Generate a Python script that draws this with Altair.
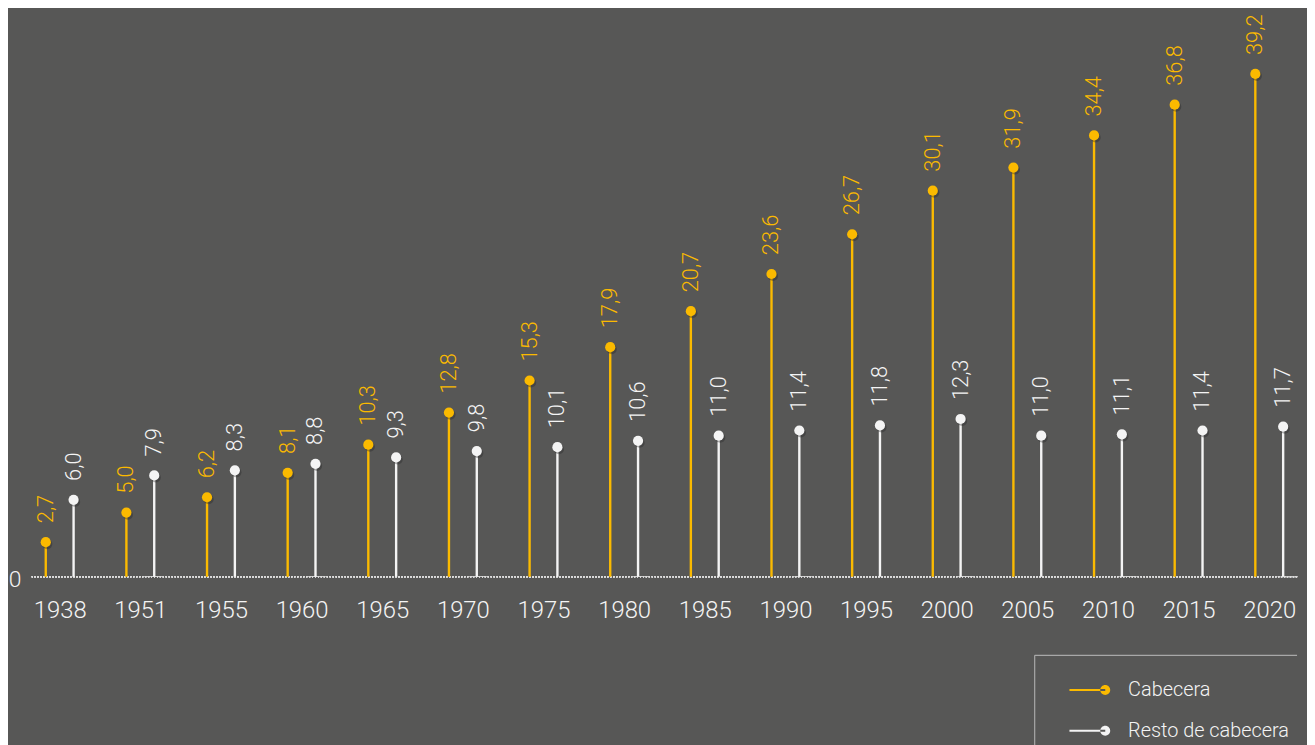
import altair as alt
import pandas as pd

years = ["1938", "1951", "1955", "1960", "1965", "1970", "1975", "1980",
         "1985", "1990", "1995", "2000", "2005", "2010", "2015", "2020"]
cabecera = [2.7, 5.0, 6.2, 8.1, 10.3, 12.8, 15.3, 17.9, 20.7, 23.6, 26.7,
            30.1, 31.9, 34.4, 36.8, 39.2]
resto = [6.0, 7.9, 8.3, 8.8, 9.3, 9.8, 10.1, 10.6, 11.0, 11.4, 11.8, 12.3,
         11.0, 11.1, 11.4, 11.7]
series_names = ["Cabecera", "Resto de cabecera"]

BG = "#575756"
YELLOW = "#FBBA00"
WHITE = "#F4F4F4"
FONT = "Roboto"

df = pd.DataFrame(
    [{"year": y, "value": v, "series": series_names[0]} for y, v in zip(years, cabecera)]
    + [{"year": y, "value": v, "series": series_names[1]} for y, v in zip(years, resto)]
)

W, H = 1273, 570

x = alt.X("year:O", sort=years,
          scale=alt.Scale(type="point", padding=0.345),
          axis=alt.Axis(title=None, labelAngle=0, domain=False, ticks=False,
                        labelPadding=22, labelFontSize=24, labelFont=FONT,
                        labelFontWeight=300, labelColor=WHITE))
y = alt.Y("value:Q", scale=alt.Scale(domain=[0, 44.16], nice=False),
          axis=alt.Axis(title=None, values=[0], domain=False, ticks=False, grid=False,
                        labelPadding=11, labelFontSize=23, labelFont=FONT,
                        labelFontWeight=300, labelColor=WHITE, labelOffset=3))
color = alt.Color("series:N",
                  scale=alt.Scale(domain=series_names, range=[YELLOW, WHITE]),
                  legend=alt.Legend(
                      title=None, orient="none", legendX=1070, legendY=674,
                      symbolType="M-7.2,-0.2H0V0.2H-7.2Z M-1,0A1,1 0 1,0 1,0A1,1 0 1,0 -1,0Z",
                      symbolSize=100, symbolStrokeWidth=0, symbolOpacity=1,
                      labelFontSize=20, labelFont=FONT, labelFontWeight=300,
                      labelColor=WHITE, labelOffset=13, labelLimit=400,
                      rowPadding=21, padding=0))

base = alt.Chart(df)

baseline = base.mark_rule(strokeDash=[1.2, 1.8], strokeWidth=1.2, color="#dcdcdc").encode(
    y=alt.datum(0))

layers = [baseline]
for name, off in [(series_names[0], -14), (series_names[1], 14)]:
    sub = base.transform_filter(alt.datum.series == name)
    stem = sub.mark_rule(strokeWidth=2.4, xOffset=off).encode(
        x=x, y=y, y2=alt.datum(0), color=color)
    shadow = sub.mark_circle(size=105, opacity=0.35, color="#222222",
                             xOffset=off + 1.5, yOffset=2).encode(x=x, y=y)
    dot = sub.mark_circle(size=105, opacity=1, xOffset=off).encode(
        x=x, y=y, color=color)
    label = sub.transform_calculate(
        lab="replace(format(datum.value, '.1f'), '.', ',')"
    ).mark_text(angle=270, align="left", baseline="middle", dx=19, xOffset=off,
                fontSize=22, font=FONT, fontWeight=300).encode(
        x=x, y=y, text="lab:N", color=color)
    layers += [stem, shadow, dot, label]

frame_df = pd.DataFrame({"k": [0]})
vline = alt.Chart(frame_df).mark_rule(color="#a8a8a8", strokeWidth=1.2).encode(
    x=alt.value(1009), y=alt.value(649), y2=alt.value(745))
hline = alt.Chart(frame_df).mark_rule(color="#a8a8a8", strokeWidth=1.2).encode(
    x=alt.value(1009), x2=alt.value(1273), y=alt.value(649))
layers += [vline, hline]

chart = alt.layer(*layers).properties(
    width=W, height=H,
    autosize=alt.AutoSizeParams(type="none"),
    padding={"left": 24, "top": 0, "right": 10, "bottom": 167},
    background=BG,
).configure_view(stroke=None)

chart.save("out.html", embed_options={"renderer": "svg", "actions": False})
